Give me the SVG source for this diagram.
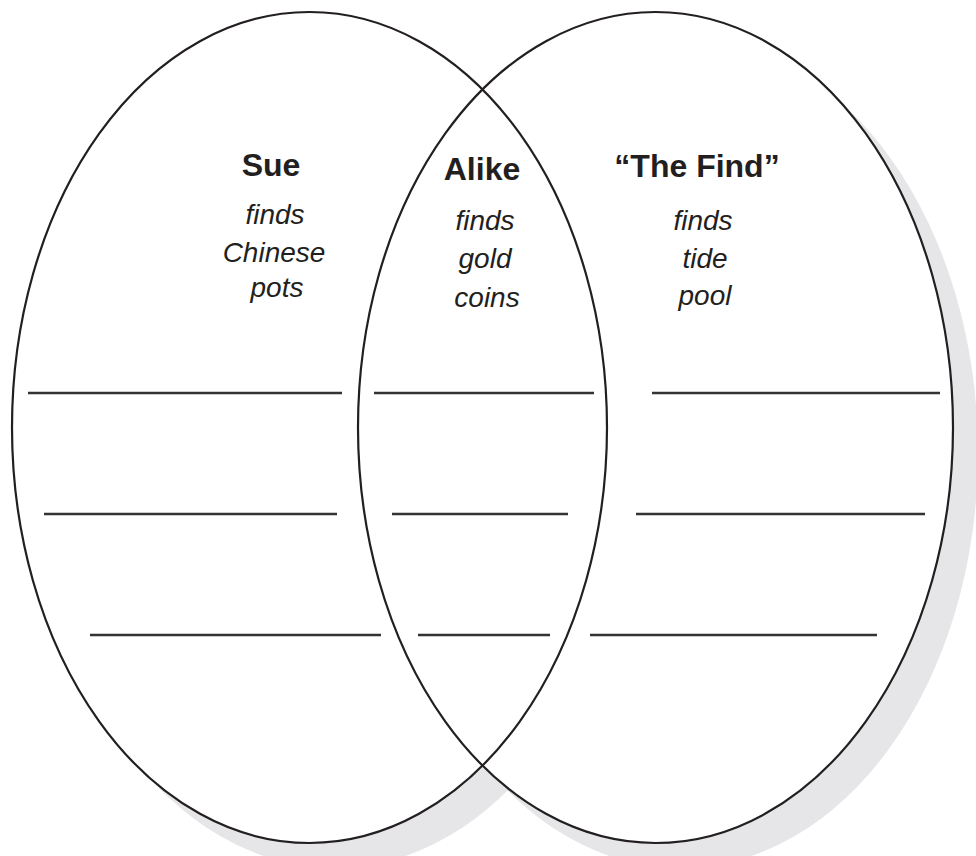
<svg xmlns="http://www.w3.org/2000/svg" width="976" height="856" viewBox="0 0 976 856">
<style>
.shadow{fill:#e6e6e8;stroke:none}
.fill{fill:#ffffff;stroke:none}
.ring{fill:none;stroke:#231f20;stroke-width:2.2}
.rule{stroke:#333333;stroke-width:2.5}
.head{font-family:"Liberation Sans",Arial,sans-serif;font-weight:bold;font-size:32px;fill:#231f20;text-anchor:middle}
.item{font-family:"Liberation Sans",Arial,sans-serif;font-style:italic;font-size:28px;fill:#231f20;text-anchor:middle}
</style>
<rect width="976" height="856" fill="#ffffff"/>
<g id="shadows">
<ellipse class="shadow" cx="334.5" cy="452.5" rx="297.5" ry="415.5"/>
<ellipse class="shadow" cx="680.5" cy="452.5" rx="297.5" ry="415.5"/>
</g>
<g id="fills">
<ellipse class="fill" cx="309.5" cy="427.5" rx="297.5" ry="415.5"/>
<ellipse class="fill" cx="655.5" cy="427.5" rx="297.5" ry="415.5"/>
</g>
<g id="sue">
<ellipse class="ring" cx="309.5" cy="427.5" rx="297.5" ry="415.5"/>
<text class="head" x="271" y="176">Sue</text>
<text class="item" x="275" y="224">finds</text>
<text class="item" x="274" y="262">Chinese</text>
<text class="item" x="277" y="297">pots</text>
</g>
<g id="find">
<ellipse class="ring" cx="655.5" cy="427.5" rx="297.5" ry="415.5"/>
<text class="head" x="697" y="177">“The Find”</text>
<text class="item" x="703" y="230">finds</text>
<text class="item" x="705" y="268">tide</text>
<text class="item" x="705" y="305">pool</text>
</g>
<g id="alike">
<text class="head" x="482" y="180">Alike</text>
<text class="item" x="485" y="230">finds</text>
<text class="item" x="485" y="268">gold</text>
<text class="item" x="487" y="307">coins</text>
</g>
<g id="rules">
<line class="rule" x1="28" y1="393" x2="342" y2="393"/>
<line class="rule" x1="374" y1="393" x2="594" y2="393"/>
<line class="rule" x1="652" y1="393" x2="940" y2="393"/>
<line class="rule" x1="44" y1="514" x2="337" y2="514"/>
<line class="rule" x1="392" y1="514" x2="568" y2="514"/>
<line class="rule" x1="636" y1="514" x2="925" y2="514"/>
<line class="rule" x1="90" y1="635" x2="381" y2="635"/>
<line class="rule" x1="418" y1="635" x2="550" y2="635"/>
<line class="rule" x1="590" y1="635" x2="877" y2="635"/>
</g>
</svg>
